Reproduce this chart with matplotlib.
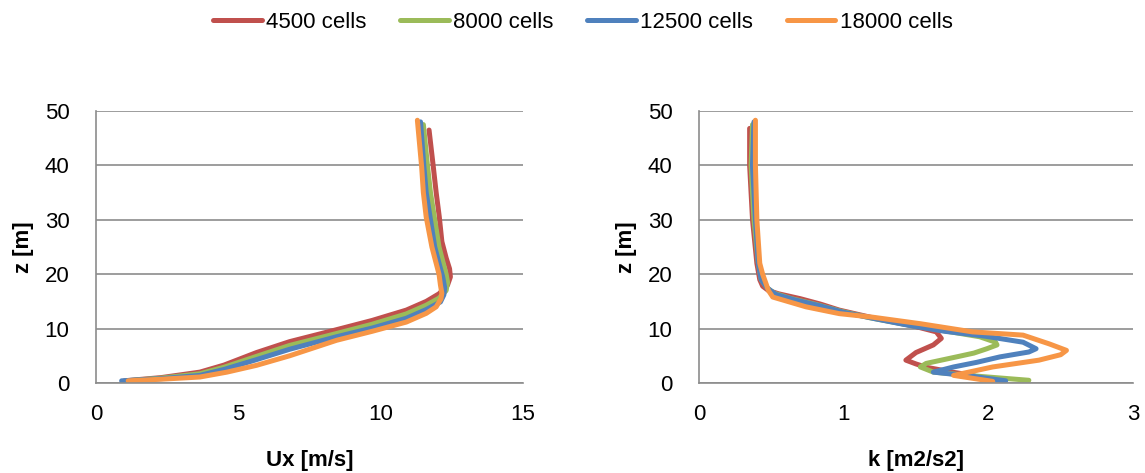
import matplotlib
matplotlib.use("Agg")
import matplotlib.pyplot as plt

plt.rcParams['font.family'] = ['Liberation Sans', 'DejaVu Sans']

labels = ["4500 cells", "8000 cells", "12500 cells", "18000 cells"]
colors = ["#C0504D", "#9BBB59", "#4F81BD", "#F79646"]

# Left panel: Ux [m/s] vs z [m]
z_u_4500 = [0.4, 1.0, 2.0, 3.3, 5.6, 7.6, 9.8, 11.5, 13.4, 15.0, 16.4, 18.0, 19.5, 21.0, 23.0, 26.0, 30.5, 35.0, 39.7, 46.5]
u_4500 = [1.0, 2.3, 3.65, 4.5, 5.64, 6.8, 8.45, 9.7, 10.9, 11.6, 12.05, 12.35, 12.45, 12.42, 12.3, 12.15, 12.06, 11.95, 11.85, 11.7]
z_u_8000 = [0.4, 0.9, 1.7, 2.9, 4.9, 6.9, 9.1, 10.8, 12.7, 14.3, 15.6, 17.0, 18.5, 20.0, 22.0, 25.0, 30.0, 35.0, 39.7, 47.5]
u_8000 = [1.05, 2.3, 3.65, 4.5, 5.64, 6.8, 8.45, 9.7, 10.9, 11.6, 12.05, 12.3, 12.35, 12.3, 12.2, 12.05, 11.9, 11.75, 11.65, 11.5]
z_u_12500 = [0.4, 0.8, 1.4, 2.5, 4.3, 6.2, 8.5, 10.1, 11.9, 13.5, 14.9, 16.2, 17.5, 19.5, 22.0, 25.0, 30.0, 35.0, 39.7, 48.0]
u_12500 = [0.9, 2.3, 3.65, 4.5, 5.64, 6.8, 8.45, 9.7, 10.9, 11.6, 12.1, 12.22, 12.25, 12.18, 12.05, 11.9, 11.75, 11.6, 11.52, 11.4]
z_u_18000 = [0.4, 0.7, 1.1, 2.0, 3.25, 5.0, 7.85, 9.5, 11.2, 12.8, 14.0, 15.5, 16.5, 18.0, 20.0, 22.0, 25.0, 30.5, 35.0, 39.7, 48.3]
u_18000 = [1.13, 2.3, 3.65, 4.6, 5.64, 6.8, 8.45, 9.7, 10.9, 11.6, 11.95, 12.12, 12.15, 12.1, 12.05, 11.95, 11.8, 11.6, 11.5, 11.44, 11.29]

# Right panel: k [m2/s2] vs z [m]
z_k_4500 = [46.8, 40, 30, 22, 19, 17.8, 17.0, 16.4, 15.5, 14.5, 13.4, 12.0, 10.5, 9.4, 8.2, 7.0, 5.6, 4.2, 3.5, 2.9, 2.0, 1.4, 0.4]
k_4500 = [0.35, 0.35, 0.37, 0.40, 0.42, 0.44, 0.48, 0.55, 0.70, 0.84, 0.97, 1.20, 1.48, 1.64, 1.675, 1.62, 1.50, 1.43, 1.50, 1.57, 1.75, 1.89, 2.0]
z_k_8000 = [47.5, 40, 30, 22, 19, 17.5, 16.5, 15.5, 14.5, 13.2, 12.0, 10.8, 9.8, 8.5, 7.5, 7.0, 6.3, 5.5, 4.8, 3.6, 2.95, 2.0, 1.2, 0.5]
k_8000 = [0.37, 0.36, 0.38, 0.41, 0.43, 0.47, 0.52, 0.64, 0.80, 0.98, 1.18, 1.42, 1.65, 1.94, 2.05, 2.06, 1.99, 1.90, 1.78, 1.57, 1.53, 1.62, 1.95, 2.28]
z_k_12500 = [48.0, 40, 30, 22, 19, 17.5, 16.3, 15.3, 14.3, 13.0, 11.8, 10.6, 9.5, 8.6, 7.5, 6.3, 5.7, 4.8, 3.8, 2.95, 2.0, 1.2, 0.4]
k_12500 = [0.38, 0.37, 0.39, 0.41, 0.43, 0.47, 0.53, 0.66, 0.82, 1.00, 1.22, 1.45, 1.70, 1.98, 2.24, 2.33, 2.28, 2.08, 1.92, 1.76, 1.62, 1.90, 2.12]
z_k_18000 = [48.3, 40, 30, 22, 20, 18.5, 17.0, 15.8, 14.0, 12.75, 12.1, 10.9, 9.4, 8.8, 7.2, 6.0, 5.2, 4.2, 2.95, 1.4, 0.3]
k_18000 = [0.39, 0.39, 0.40, 0.42, 0.44, 0.46, 0.48, 0.51, 0.74, 0.97, 1.20, 1.53, 1.89, 2.24, 2.42, 2.54, 2.50, 2.35, 2.03, 1.76, 2.03]

u_series = [(u_4500, z_u_4500), (u_8000, z_u_8000), (u_12500, z_u_12500), (u_18000, z_u_18000)]
k_series = [(k_4500, z_k_4500), (k_8000, z_k_8000), (k_12500, z_k_12500), (k_18000, z_k_18000)]

fig = plt.figure(figsize=(11.45, 4.73), dpi=100)
ax1 = fig.add_axes([96/1145, 90/473, 427/1145, 272/473])
ax2 = fig.add_axes([699/1145, 90/473, 434/1145, 272/473])

grid_c = "#8c8c8c"
FS = 16
lw = 3.6

def style(ax, xlim, xticks, xlabel):
    ax.set_xlim(*xlim)
    ax.set_ylim(0, 50)
    ax.set_xticks(xticks)
    ax.set_yticks([0, 10, 20, 30, 40, 50])
    ax.grid(axis='y', color=grid_c, lw=1.2)
    ax.set_axisbelow(True)
    for s in ['top', 'right']:
        ax.spines[s].set_visible(False)
    for s in ['left', 'bottom']:
        ax.spines[s].set_color(grid_c)
        ax.spines[s].set_linewidth(1.2)
    ax.tick_params(axis='x', length=0, pad=15, labelsize=FS)
    ax.tick_params(axis='y', length=0, pad=19, labelsize=FS)
    ax.set_xlabel(xlabel, fontsize=FS, fontweight='bold', labelpad=18)
    ax.set_ylabel("z [m]", fontsize=FS, fontweight='bold', labelpad=8)

lines = []
for (x, z), c, lab in zip(u_series, colors, labels):
    ln, = ax1.plot(x, z, color=c, lw=lw, label=lab, solid_capstyle='round', solid_joinstyle='round')
    lines.append(ln)
for (x, z), c in zip(k_series, colors):
    ax2.plot(x, z, color=c, lw=lw, solid_capstyle='round', solid_joinstyle='round')

style(ax1, (0, 15), [0, 5, 10, 15], "Ux [m/s]")
style(ax2, (0, 3), [0, 1, 2, 3], "k [m2/s2]")

fig.legend(handles=lines, labels=labels, loc='center', bbox_to_anchor=(0.509, 0.953),
           ncol=4, frameon=False, fontsize=FS, handlelength=2.2, handletextpad=0.2,
           columnspacing=1.5)

fig.savefig("out.png", dpi=100)
